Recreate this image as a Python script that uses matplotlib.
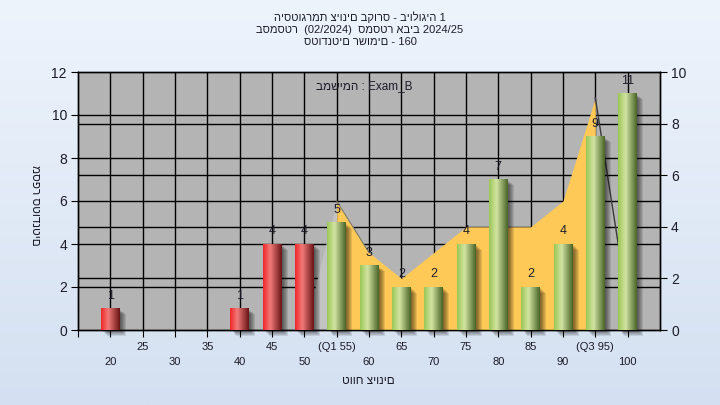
import numpy as np
import matplotlib
matplotlib.use("Agg")
import matplotlib.pyplot as plt
from matplotlib.patches import Rectangle
from matplotlib.colors import LinearSegmentedColormap
from matplotlib.transforms import blended_transform_factory

plt.rcParams['font.family'] = ['Liberation Sans', 'DejaVu Sans']

# --- data ---
title_lines = ["היסטוגרמת ציונים בקורס - ביולוגיה 1",
               "בסמסטר  (02/2024)  סמסטר אביב 2024/25",
               "סטודנטים רשומים - 160"]
task_label = "במשימה : Exam_B"
x_title = "טווח ציונים"
y_title = "מספר סטודנטים"

grades = [20, 25, 30, 35, 40, 45, 50, 55, 60, 65, 70, 75, 80, 85, 90, 95, 100]
counts = [1, 0, 0, 0, 1, 4, 4, 5, 3, 2, 2, 4, 7, 2, 4, 9, 11]
tick_labels = ['20', '25', '30', '35', '40', '45', '50', '(Q1 55)', '60', '65',
               '70', '75', '80', '85', '90', '(Q3 95)', '100']
q1 = 55

# area series on the right axis (0-10)
curve_x = [50, 55, 60, 65, 70, 75, 80, 85, 90, 95, 100]
curve_y = [0, 5, 3, 2, 3, 4, 4, 4, 5, 9, 1]

txt_col = '#1c1c28'

fig = plt.figure(figsize=(7.2, 4.05), dpi=100)

# background gradient
bg = fig.add_axes([0, 0, 1, 1], zorder=-10)
bg.imshow(np.linspace(0, 1, 256)[:, None], aspect='auto', extent=[0, 1, 0, 1],
          cmap=LinearSegmentedColormap.from_list('bg', ['#eef4fc', '#d4e0f1']))
bg.axis('off')

rect = [78 / 720, 75 / 405, 582 / 720, 258 / 405]
ax = fig.add_axes(rect)
ax2 = ax.twinx()
ax.set_zorder(2)
ax2.set_zorder(1)
ax.patch.set_visible(False)
ax2.patch.set_visible(True)
ax2.patch.set_facecolor('#b4b4b4')

ax.set_xlim(15, 105)
ax.set_ylim(0, 12)
ax2.set_ylim(0, 10)

# grid (drawn on the lower axes so the area hides it)
left_tr = blended_transform_factory(ax2.transAxes, ax.transData)
for v in range(2, 12, 2):
    ax2.plot([0, 1], [v, v], color='black', lw=1, transform=left_tr, zorder=1)
for v in range(2, 10, 2):
    ax2.axhline(v, color='black', lw=1, zorder=1)
for g in grades:
    ax2.axvline(g, color='black', lw=1, zorder=1)

# area
ax2.fill_between(curve_x[:2], curve_y[:2], color='#c2c2c2', lw=0, zorder=2)
ax2.fill_between(curve_x[1:-1], curve_y[1:-1], color='#ffc957', lw=0, zorder=3)
ax2.plot(curve_x[1:3], curve_y[1:3], color='#7a7a6a', lw=0.8, zorder=4)
ax2.plot(curve_x[-2:], curve_y[-2:], color='#3a3a3a', lw=1, zorder=4)

# bars
w = 2.9
red_cm = LinearSegmentedColormap.from_list('r', [(0, '#f02828'), (0.38, '#f27a7a'), (1, '#6a1414')])
green_cm = LinearSegmentedColormap.from_list('g', [(0, '#9cc657'), (0.4, '#d2e4a2'), (1, '#4a6528')])
grad = np.linspace(0, 1, 64)[None, :]
for g, c in zip(grades, counts):
    if c == 0:
        continue
    # soft drop shadow, bottom right
    for k in range(6):
        dx = 0.2 + 0.15 * k
        dy = 0.05 + 0.045 * k
        ax.add_patch(Rectangle((g - w / 2 + dx, -dy), w, c, facecolor='black',
                               alpha=0.1, lw=0, clip_on=False, zorder=2))
    cm = red_cm if g < q1 else green_cm
    ax.imshow(grad, cmap=cm, extent=[g - w / 2, g + w / 2, 0, c], aspect='auto',
              interpolation='bilinear', zorder=3)
    ax.text(g, c + 0.6, str(c), ha='center', va='center', fontsize=9,
            color=txt_col, zorder=5)

ax.set_xlim(15, 105)
ax.set_ylim(0, 12)

# ticks
ax.set_xticks([15] + grades)
ax.set_xticklabels([''] + [t if (g // 5) % 2 else '\n' + t for g, t in zip(grades, tick_labels)],
                   fontsize=8, color=txt_col)
for lab in ax.get_xticklabels():
    lab.set_linespacing(1.55)
ax.set_yticks(range(0, 13, 2))
ax.tick_params(axis='y', labelsize=10, labelcolor=txt_col, length=5, pad=3)
ax.tick_params(axis='x', length=5, pad=4)
ax2.set_yticks(range(0, 11, 2))
ax2.tick_params(axis='y', labelsize=10, labelcolor=txt_col, length=5, pad=3)
for a in (ax, ax2):
    for s in a.spines.values():
        s.set_color('black')
        s.set_linewidth(1)

# texts
fig.text(0.5, 1 - 11 / 405, '\n'.join(title_lines), ha='center', va='top',
         fontsize=8, color=txt_col, linespacing=1.25)
fig.text(364 / 720, 1 - 86 / 405, task_label, ha='center', va='center',
         fontsize=8.5, color=txt_col, zorder=10)
fig.text(368 / 720, 1 - 381 / 405, x_title, ha='center', va='center',
         fontsize=8.5, color=txt_col)
fig.text(35 / 720, 1 - 205 / 405, y_title, ha='center', va='center',
         rotation=270, fontsize=8.5, color=txt_col)

fig.savefig('out.png', dpi=100)
